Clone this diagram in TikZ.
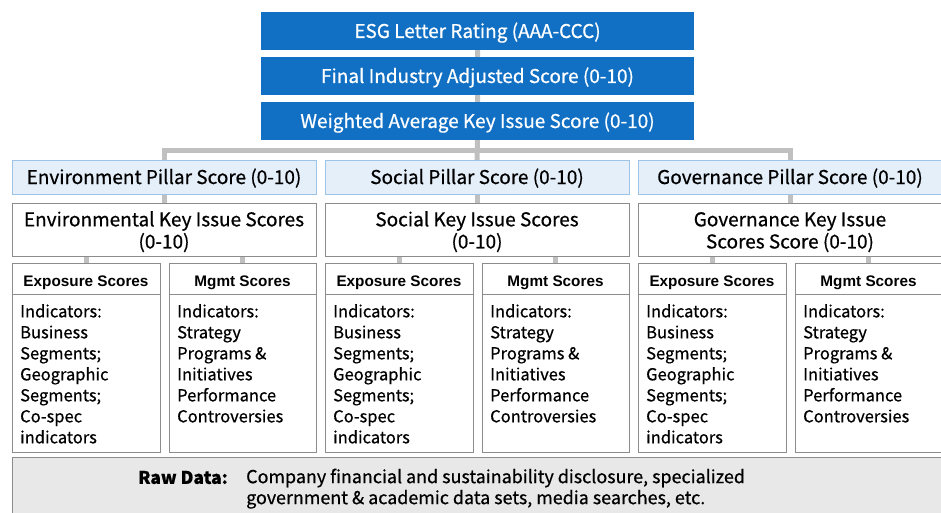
\documentclass[tikz,border=0pt]{standalone}
\usepackage{fontspec}
\setmainfont{Noto Sans CJK KR}[FakeBold=0.6]
\newfontfamily\headfont{Liberation Sans}
\usetikzlibrary{backgrounds}
\definecolor{esgblue}{HTML}{1170C4}
\definecolor{pillarfill}{HTML}{E4EFFA}
\definecolor{pillarline}{HTML}{9DC3E6}
\definecolor{linkgray}{HTML}{C0C0C0}
\definecolor{boxline}{HTML}{8C8C8C}
\definecolor{rawfill}{HTML}{E8E8E8}
\newcommand{\twolines}[2]{\raisebox{-3.5pt}[\height][\depth]{\begin{tabular}{@{}c@{}}#1\\#2\end{tabular}}}
\tikzset{
  box/.style={inner sep=0pt, outer sep=0pt, line width=0.8pt},
  oneline/.style={text height=15.5pt, text depth=1.5pt},
  topbox/.style={box, oneline, fill=esgblue, text=white, minimum width=433pt, minimum height=38pt, font=\fontsize{19}{22}\selectfont},
  pillar/.style={box, oneline, draw=pillarline, fill=pillarfill, minimum width=304pt, minimum height=34pt, font=\fontsize{19}{22}\selectfont},
  keyissue/.style={box, draw=boxline, fill=white, minimum width=304pt, minimum height=53pt, align=center, font=\fontsize{19}{22}\selectfont},
  subhead/.style={box, draw=boxline, fill=white, minimum height=31pt, text height=16pt, text depth=0pt, font=\headfont\bfseries\fontsize{15.3}{18}\selectfont},
  subbody/.style={box, draw=boxline, fill=white, minimum height=158pt},
  bodytext/.style={inner sep=0pt, anchor=north west, align=left, font=\fontsize{16.5}{21}\selectfont},
  link/.style={draw=linkgray, line width=5pt},
}
\begin{document}
\begin{tikzpicture}[x=1pt, y=-1pt]
\useasboundingbox (0,0) rectangle (941,513);

% rating chain
\node[topbox] (esg)  at (477.5,31)  {ESG Letter Rating (AAA-CCC)};
\node[topbox] (fin)  at (477.5,76)  {Final Industry Adjusted Score (0-10)};
\node[topbox] (wavg) at (477.5,121) {Weighted Average Key Issue Score (0-10)};

% pillars
\node[pillar] (envp) at (164,177) {Environment Pillar Score (0-10)};
\node[pillar] (socp) at (477,177) {Social Pillar Score (0-10)};
\node[pillar] (govp) at (790,177) {Governance Pillar Score (0-10)};

% key issue scores
\node[keyissue] (envk) at (164,229.5) {\twolines{Environmental Key Issue Scores}{(0-10)}};
\node[keyissue] (sock) at (477,229.5) {\twolines{Social Key Issue Scores}{(0-10)}};
\node[keyissue] (govk) at (790,229.5) {\twolines{Governance Key Issue}{Scores Score (0-10)}};

% exposure / management columns
\foreach \nm/\cx/\w/\kind in {envx/86/148/x, envm/242.5/147/m, socx/399/148/x, socm/555.5/147/m, govx/712/148/x, govm/868.5/147/m}{
  \if x\kind
    \node[subhead, minimum width=\w pt] (\nm h) at (\cx,278.5) {Exposure Scores};
  \else
    \node[subhead, minimum width=\w pt] (\nm h) at (\cx,278.5) {Mgmt Scores};
  \fi
  \node[subbody, minimum width=\w pt] (\nm b) at (\cx,373) {};
  \if x\kind
    \node[bodytext] (\nm t) at ([xshift=8pt,yshift=-10pt]\nm b.north west)
      {Indicators:\\Business\\Segments;\\Geographic\\Segments;\\Co-spec\\indicators};
  \else
    \node[bodytext] (\nm t) at ([xshift=8pt,yshift=-10pt]\nm b.north west)
      {Indicators:\\Strategy\\Programs \&\\Initiatives\\Performance\\Controversies};
  \fi
}

% raw data strip
\node[box, draw=boxline, fill=rawfill, minimum width=934pt, minimum height=60pt] (raw) at (479,487) {};
\node[inner sep=0pt, anchor=east, font=\bfseries\fontsize{17.5}{21}\selectfont] (rawlabel) at (228,477.5) {Raw Data:};
\node[inner sep=0pt, anchor=north west, align=left, font=\fontsize{17.9}{21}\selectfont] (rawtext) at (246,468.5)
  {Company financial and sustainability disclosure, specialized\\government \& academic data sets, media searches, etc.};

% connectors
\begin{scope}[on background layer]
  \draw[link] (esg.center) -- (fin.center) -- (wavg.center) -- (socp.center);
  \draw[link] (envp.center) -- (envp.north) -- ++(0,-9) -| (govp.north);
  \draw[link] (envp.south) -- (envk.north);
  \draw[link] (socp.south) -- (sock.north);
  \draw[link] (govp.south) -- (govk.north);
  \foreach \nm/\k in {envx/envk, envm/envk, socx/sock, socm/sock, govx/govk, govm/govk}
    \draw[link] (\nm h.north) -- (\nm h.north |- \k.south);
\end{scope}
\end{tikzpicture}
\end{document}
